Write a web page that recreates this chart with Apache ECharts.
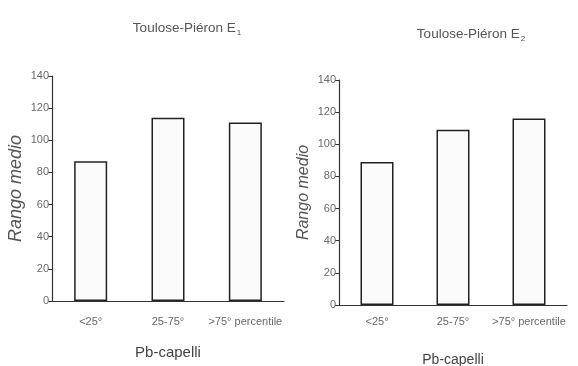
<!DOCTYPE html>
<html>
<head>
<meta charset="utf-8">
<script src="https://cdn.jsdelivr.net/npm/echarts@6/dist/echarts.min.js"></script>
<style>html,body{margin:0;padding:0;background:#fff;}#c{width:578px;height:366px;}</style>
</head>
<body>
<div id="c"></div>
<script>
var categories = ['<25°', '25-75°', '>75° percentile'];
var valuesE1 = [87, 114, 111];
var valuesE2 = [89, 109, 116];
var yTicks = [0, 20, 40, 60, 80, 100, 120, 140];

var chart = echarts.init(document.getElementById('c'), null, {renderer: 'canvas'});
var textCol = '#6a6a6a';
var lineCol = '#333';
var font = 'Liberation Sans';

function xAxis(idx, margin, gap, nameSize) {
  return {
    type: 'category', gridIndex: idx, data: categories,
    axisLine: {lineStyle: {color: lineCol, width: 1.2}},
    axisTick: {alignWithLabel: true, length: 5, lineStyle: {color: lineCol}},
    axisLabel: {color: textCol, fontSize: 11, fontFamily: font, margin: margin, interval: 0},
    name: 'Pb-capelli', nameLocation: 'middle', nameGap: gap,
    nameTextStyle: {color: '#444', fontSize: nameSize, fontFamily: font}
  };
}
function yAxis(idx, nameSize, gap) {
  return {
    type: 'value', gridIndex: idx, min: yTicks[0], max: yTicks[yTicks.length - 1], interval: 20,
    axisLine: {show: true, lineStyle: {color: lineCol, width: 1.2}},
    axisTick: {show: true, length: 4, lineStyle: {color: lineCol}},
    axisLabel: {color: textCol, fontSize: 11, fontFamily: font, margin: 3},
    splitLine: {show: false},
    name: 'Rango medio', nameLocation: 'middle', nameGap: gap, nameRotate: 90,
    nameTextStyle: {color: '#555', fontSize: nameSize, fontStyle: 'italic', fontFamily: font}
  };
}
function series(idx, data) {
  return {
    type: 'bar', xAxisIndex: idx, yAxisIndex: idx, data: data, barWidth: 33,
    itemStyle: {color: '#fbfbfb', borderColor: '#222', borderWidth: 1.5}
  };
}
var titleRich = {
  m: {fontSize: 13.5, color: '#555', fontFamily: font, fontWeight: 'normal'},
  s: {fontSize: 8, color: '#555', fontFamily: font, fontWeight: 'normal', verticalAlign: 'bottom', padding: [10, 0, 0, 1]}
};

chart.setOption({
  backgroundColor: '#fff',
  animation: false,
  title: [
    {text: '{m|Toulose-Piéron E}{s|1}', left: 182, top: 14, textAlign: 'center', textStyle: {fontWeight: 'normal', rich: titleRich}},
    {text: '{m|Toulose-Piéron E}{s|2}', left: 466, top: 20, textAlign: 'center', textStyle: {fontWeight: 'normal', rich: titleRich}}
  ],
  grid: [
    {left: 52, top: 76, width: 232, height: 225, outerBoundsMode: 'none', containLabel: false},
    {left: 339, top: 80, width: 228, height: 225, outerBoundsMode: 'none', containLabel: false}
  ],
  xAxis: [xAxis(0, 15, 44, 15), xAxis(1, 11, 48, 14)],
  yAxis: [yAxis(0, 18, 27), yAxis(1, 16, 27)],
  series: [series(0, valuesE1), series(1, valuesE2)]
});
</script>
</body>
</html>
